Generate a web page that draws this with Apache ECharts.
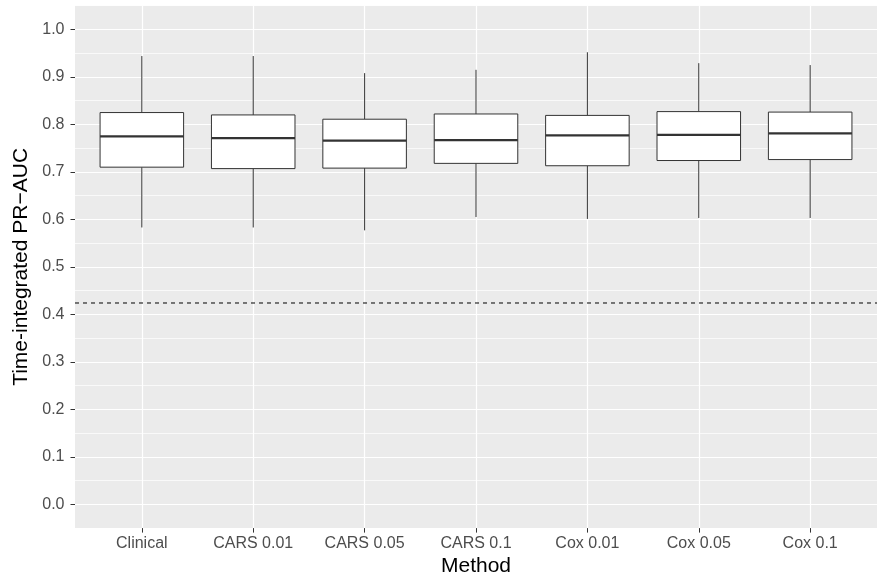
<!DOCTYPE html>
<html>
<head>
<meta charset="utf-8">
<script src="https://cdn.jsdelivr.net/npm/echarts@6/dist/echarts.min.js"></script>
<style>
  html, body { margin: 0; padding: 0; background: #fff; }
  #chart { width: 877px; height: 582px; }
</style>
</head>
<body>
<div id="chart"></div>
<script>
// Methods on the x axis
const methods = ['Clinical', 'CARS 0.01', 'CARS 0.05', 'CARS 0.1', 'Cox 0.01', 'Cox 0.05', 'Cox 0.1'];

// Box statistics per method
const whiskerLow  = [0.583, 0.583, 0.577, 0.605, 0.601, 0.603, 0.603];
const quartile1   = [0.710, 0.707, 0.708, 0.718, 0.713, 0.724, 0.726];
const medians     = [0.775, 0.771, 0.766, 0.767, 0.777, 0.778, 0.781];
const quartile3   = [0.825, 0.820, 0.811, 0.822, 0.819, 0.827, 0.826];
const whiskerHigh = [0.944, 0.944, 0.908, 0.915, 0.952, 0.929, 0.925];

// Reference level (dashed line)
const baseline = 0.424;

// Axis ticks
const yTicks = [0, 0.1, 0.2, 0.3, 0.4, 0.5, 0.6, 0.7, 0.8, 0.9, 1.0];
const xTicks = methods.map((m, i) => i);

const rows = methods.map((m, i) => [i, whiskerLow[i], quartile1[i], medians[i], quartile3[i], whiskerHigh[i]]);

const FONT = '"Liberation Sans", Arial, Helvetica, sans-serif';
const EDGE = '#333333';

function renderBox(params, api) {
  const i = api.value(0);
  const half = api.size([0.75, 0])[0] / 2;
  const lo = api.coord([i, api.value(1)]);
  const q1 = api.coord([i, api.value(2)]);
  const md = api.coord([i, api.value(3)]);
  const q3 = api.coord([i, api.value(4)]);
  const hi = api.coord([i, api.value(5)]);
  const x = lo[0];
  const thin = { stroke: EDGE, lineWidth: 1, fill: null };
  return {
    type: 'group',
    children: [
      { type: 'line', shape: { x1: x, y1: lo[1], x2: x, y2: q1[1] }, style: thin },
      { type: 'line', shape: { x1: x, y1: q3[1], x2: x, y2: hi[1] }, style: thin },
      { type: 'rect', shape: { x: x - half, y: q3[1], width: 2 * half, height: q1[1] - q3[1] },
        style: { fill: '#ffffff', stroke: EDGE, lineWidth: 1 } },
      { type: 'line', shape: { x1: x - half, y1: md[1], x2: x + half, y2: md[1] },
        style: { stroke: EDGE, lineWidth: 2.2 } }
    ]
  };
}

const chart = echarts.init(document.getElementById('chart'), null, { renderer: 'canvas' });

chart.setOption({
  animation: false,
  backgroundColor: '#ffffff',
  textStyle: { fontFamily: FONT },
  grid: {
    left: 75, top: 5.7, width: 811.7, height: 528,
    show: true, backgroundColor: '#EBEBEB', borderWidth: 0
  },
  xAxis: {
    type: 'value', min: -0.6, max: 6.6,
    name: 'Method', nameLocation: 'middle', nameGap: 27,
    nameTextStyle: { fontSize: 21, color: '#000', fontFamily: FONT },
    axisLine: { show: false, onZero: false },
    axisTick: { show: true, length: 4.5, customValues: xTicks, lineStyle: { color: EDGE, width: 1 } },
    axisLabel: {
      customValues: xTicks, margin: 7, fontSize: 16, color: '#4D4D4D', fontFamily: FONT,
      formatter: v => methods[Math.round(v)]
    },
    splitLine: { show: true, lineStyle: { color: '#ffffff', width: 1.2 } }
  },
  yAxis: [
    {
      type: 'value', min: -0.05, max: 1.05,
      name: 'Time-integrated PR\u2212AUC', nameLocation: 'middle', nameGap: 43,
      nameTextStyle: { fontSize: 21, color: '#000', fontFamily: FONT },
      axisLine: { show: false, onZero: false },
      axisTick: { show: true, length: 4.5, customValues: yTicks, lineStyle: { color: EDGE, width: 1 } },
      axisLabel: {
        customValues: yTicks, margin: 10.5, fontSize: 16, color: '#4D4D4D', fontFamily: FONT,
        formatter: v => v.toFixed(1)
      },
      splitLine: { show: true, lineStyle: { color: '#ffffff', width: 1.2 } }
    },
    {
      // minor grid lines every 0.05
      type: 'value', min: -0.05, max: 1.05, interval: 0.05, position: 'left',
      axisLine: { show: false, onZero: false }, axisTick: { show: false }, axisLabel: { show: false },
      splitLine: { show: true, lineStyle: { color: '#ffffff', width: 0.7 } }
    }
  ],
  series: [
    {
      type: 'line',
      yAxisIndex: 0,
      data: [[-0.6, baseline], [6.6, baseline]],
      symbol: 'none',
      silent: true,
      lineStyle: { color: '#000', width: 1, type: [4, 4] },
      z: 3
    },
    {
      type: 'custom',
      yAxisIndex: 0,
      data: rows,
      encode: { x: 0, y: [1, 2, 3, 4, 5] },
      renderItem: renderBox,
      clip: false,
      z: 5
    }
  ]
});
</script>
</body>
</html>
